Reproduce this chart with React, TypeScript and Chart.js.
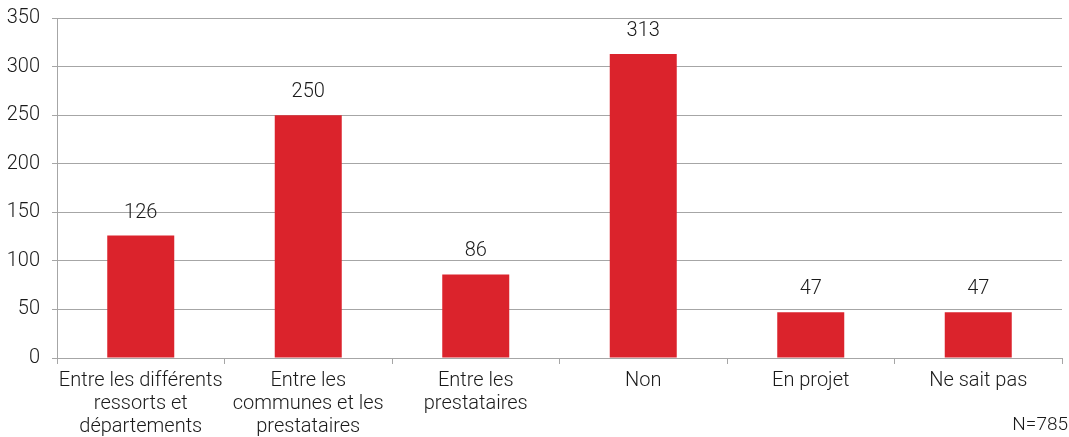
import React, { useEffect, useRef } from "react";
import { Chart, registerables } from "chart.js";

Chart.register(...registerables);

const categories: string[][] = [
  ["Entre les différents", "ressorts et", "départements"],
  ["Entre les", "communes et les", "prestataires"],
  ["Entre les", "prestataires"],
  ["Non"],
  ["En projet"],
  ["Ne sait pas"],
];
const counts: number[] = [126, 250, 86, 313, 47, 47];
const yTicks: number[] = [0, 50, 100, 150, 200, 250, 300, 350];
const sampleNote = "N=785";

const FONT = "Roboto, 'Liberation Sans', Arial, sans-serif";
const WEIGHT = "300";
const TEXT = "#1a1a1a";
const GRID = "#a6a6a6";
const BAR = "#db232c";

const valueLabels = {
  id: "valueLabels",
  afterDatasetsDraw(chart: any) {
    const { ctx } = chart;
    const meta = chart.getDatasetMeta(0);
    ctx.save();
    ctx.font = `${WEIGHT} 20px ${FONT}`;
    ctx.fillStyle = TEXT;
    ctx.textAlign = "center";
    ctx.textBaseline = "middle";
    meta.data.forEach((bar: any, i: number) => {
      ctx.fillText(String(counts[i]), bar.x, bar.y - 23);
    });
    ctx.restore();
  },
};

const footNote = {
  id: "footNote",
  afterDraw(chart: any) {
    const { ctx } = chart;
    ctx.save();
    ctx.font = `${WEIGHT} 19px ${FONT}`;
    ctx.fillStyle = TEXT;
    ctx.textAlign = "right";
    ctx.textBaseline = "middle";
    ctx.fillText(sampleNote, chart.width - 1, chart.height - 12);
    ctx.restore();
  },
};

export default function App() {
  const ref = useRef<HTMLCanvasElement>(null);
  useEffect(() => {
    if (!ref.current) return;
    const chart = new Chart(ref.current, {
      type: "bar",
      data: {
        labels: categories,
        datasets: [
          {
            data: counts,
            backgroundColor: BAR,
            categoryPercentage: 1,
            barPercentage: 0.4,
          },
        ],
      },
      options: {
        animation: false,
        responsive: false,
        maintainAspectRatio: false,
        layout: { padding: { top: 18, right: 7, left: 5, bottom: 0 } },
        plugins: { legend: { display: false }, tooltip: { enabled: false } },
        scales: {
          x: {
            offset: true,
            afterFit: (scale: any) => {
              // outer category labels may overhang the plot edges
              scale.paddingLeft = 0;
              scale.paddingRight = 0;
              scale.height = 79;
            },
            border: { color: GRID, width: 1 },
            grid: {
              offset: true,
              drawOnChartArea: false,
              drawTicks: true,
              tickLength: 6,
              color: GRID,
            },
            ticks: {
              color: TEXT,
              font: { family: FONT, size: 20, weight: WEIGHT as any, lineHeight: 1.15 },
              maxRotation: 0,
              autoSkip: false,
              padding: 5,
            },
          },
          y: {
            min: 0,
            max: 350,
            afterBuildTicks: (axis: any) => {
              axis.ticks = yTicks.map((v) => ({ value: v }));
            },
            afterFit: (scale: any) => {
              scale.paddingTop = 0;
              scale.paddingBottom = 0;
              scale.width = 52;
            },
            border: { color: GRID, width: 1 },
            grid: { color: GRID, tickLength: 5, lineWidth: 1 },
            ticks: {
              color: TEXT,
              font: { family: FONT, size: 20, weight: WEIGHT as any },
              padding: 12,
            },
          },
        },
      },
      plugins: [valueLabels, footNote],
    });
    return () => chart.destroy();
  }, []);
  return (
    <div style={{ position: "fixed", left: 0, top: 0, width: 1069, height: 437, background: "#fff" }}>
      <canvas ref={ref} width={1069} height={437} />
    </div>
  );
}
